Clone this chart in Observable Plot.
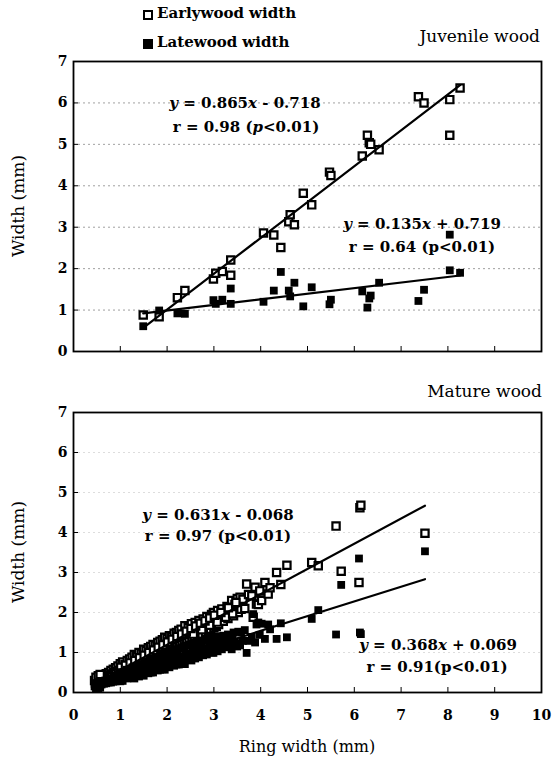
<!DOCTYPE html>
<html>
<head>
<meta charset="utf-8">
<script src="https://cdn.jsdelivr.net/npm/d3@7"></script>
<script src="https://cdn.jsdelivr.net/npm/@observablehq/plot@0.6"></script>
<style>
  html, body { margin: 0; padding: 0; background: #fff; }
  #wrap { position: relative; width: 552px; height: 762px; overflow: hidden; font-family: "DejaVu Serif", serif; color: #000; }
  .abs { position: absolute; white-space: nowrap; }
  .c { transform: translate(-50%, -50%); }
  .eq { font-size: 15px; font-weight: bold; }
  .lab { font-size: 15px; font-weight: bold; }
  .ttl { font-size: 17px; }
  .sq { position: absolute; width: 6px; height: 6px; border: 2px solid #000; background: #fff; }
  .sqf { background: #000; }
</style>
</head>
<body>
<div id="wrap">
  <div id="top" class="abs" style="left:0;top:0"></div>
  <div id="bot" class="abs" style="left:0;top:360px"></div>

  <span class="sq" style="left:143px;top:10px"></span>
  <div class="abs lab" style="left:157px;top:4px">Earlywood width</div>
  <span class="sq sqf" style="left:143px;top:39px"></span>
  <div class="abs lab" style="left:157px;top:33px">Latewood width</div>

  <div class="abs ttl" style="right:12px;top:26px">Juvenile wood</div>
  <div class="abs ttl" style="right:10px;top:381px">Mature wood</div>

  <div class="abs ttl c" style="left:18px;top:206px;transform:translate(-50%,-50%) rotate(-90deg)">Width (mm)</div>
  <div class="abs ttl c" style="left:18px;top:552px;transform:translate(-50%,-50%) rotate(-90deg)">Width (mm)</div>
  <div class="abs ttl c" style="left:307px;top:746px;font-size:16px">Ring width (mm)</div>

  <div class="abs eq c" style="left:245px;top:103px"><i>y</i> = 0.865<i>x</i> - 0.718</div>
  <div class="abs eq c" style="left:246px;top:127px">r = 0.98 (<i>p</i>&lt;0.01)</div>
  <div class="abs eq c" style="left:422px;top:224px"><i>y</i> = 0.135<i>x</i> + 0.719</div>
  <div class="abs eq c" style="left:422px;top:247px">r = 0.64 (p&lt;0.01)</div>

  <div class="abs eq c" style="left:218px;top:515px"><i>y</i> = 0.631<i>x</i> - 0.068</div>
  <div class="abs eq c" style="left:218px;top:536px">r = 0.97 (p&lt;0.01)</div>
  <div class="abs eq c" style="left:438px;top:645px"><i>y</i> = 0.368<i>x</i> + 0.069</div>
  <div class="abs eq c" style="left:437px;top:667px">r = 0.91(p&lt;0.01)</div>
</div>
<script>
// ---------- Data ----------
const xTicks = [0, 1, 2, 3, 4, 5, 6, 7, 8, 9, 10];
const yTicks = [0, 1, 2, 3, 4, 5, 6, 7];

// Juvenile wood: ring width, earlywood width, latewood width (mm)
const ringJuvenile = [1.49, 1.83, 2.22, 2.38, 2.99, 3.04, 3.18, 3.36, 3.36, 4.06, 4.28, 4.43, 4.60, 4.63, 4.72,
  4.91, 5.09, 5.47, 5.50, 6.17, 6.28, 6.32, 6.35, 6.53, 7.37, 7.49, 8.04, 8.04, 8.26];
const earlyJuvenile = [0.88, 0.84, 1.30, 1.47, 1.75, 1.89, 1.93, 1.84, 2.21, 2.86, 2.81, 2.51, 3.13, 3.30, 3.06,
  3.82, 3.54, 4.33, 4.25, 4.72, 5.22, 5.04, 5.00, 4.87, 6.15, 6.00, 6.08, 5.22, 6.36];
const lateJuvenile = [0.61, 0.99, 0.92, 0.91, 1.24, 1.15, 1.25, 1.52, 1.15, 1.20, 1.47, 1.92, 1.47, 1.33, 1.66,
  1.09, 1.55, 1.14, 1.25, 1.45, 1.06, 1.28, 1.35, 1.66, 1.22, 1.49, 1.96, 2.82, 1.90];

// Mature wood: ring width, earlywood width, latewood width (mm)
const ringMature = [0.45, 0.47, 0.50, 0.50, 0.52, 0.55, 0.55, 0.58, 0.60, 0.62, 0.65, 0.68, 0.70, 0.72, 0.75,
  0.78, 0.80, 0.82, 0.85, 0.88, 0.90, 0.93, 0.95, 0.98, 1.00, 1.02, 1.05, 1.08, 1.10, 1.12,
  1.15, 1.18, 1.20, 1.22, 1.25, 1.28, 1.30, 1.33, 1.35, 1.38, 1.40, 1.43, 1.45, 1.48, 1.50,
  1.53, 1.55, 1.58, 1.60, 1.63, 1.65, 1.68, 1.70, 1.73, 1.75, 1.78, 1.80, 1.83, 1.85, 1.88,
  1.90, 1.93, 1.95, 1.98, 2.00, 2.03, 2.05, 2.08, 2.10, 2.13, 2.15, 2.18, 2.20, 2.23, 2.25,
  2.28, 2.30, 2.33, 2.38, 2.40, 2.45, 2.48, 2.52, 2.55, 2.60, 2.63, 2.68, 2.72, 2.77, 2.80,
  2.85, 2.90, 2.95, 2.99, 3.02, 3.08, 3.12, 3.17, 3.22, 3.28, 3.34, 3.38, 3.38, 3.45, 3.50,
  3.56, 3.62, 3.70, 3.74, 3.81, 3.84, 3.88, 3.91, 3.95, 3.98, 4.02, 4.09, 4.16, 4.20, 4.34,
  4.43, 4.56, 5.09, 5.23, 5.61, 5.72, 6.10, 6.12, 6.14, 7.51,
  0.48, 0.53, 0.57, 0.90, 0.96, 1.03, 1.07, 1.14, 1.19, 1.26, 1.32, 1.37, 1.42, 1.47, 1.52,
  1.57, 1.62, 1.67, 1.72, 1.77, 1.82, 1.87, 1.92, 1.97, 2.02, 2.07, 2.12, 2.17, 2.22, 2.27,
  2.32, 2.37, 2.42, 2.47, 2.53, 2.58, 2.65, 2.70, 2.75, 2.82, 2.88, 2.93, 3.00, 3.05, 3.10,
  3.20, 3.30, 3.42, 3.52, 2.56, 2.74, 2.91, 3.07, 3.25, 3.40, 3.58, 3.66,
  1.01, 1.11, 1.21, 1.31, 1.41, 1.51, 1.61, 1.71, 1.81, 1.91, 2.01, 2.11, 2.21, 2.31, 2.41,
  2.51, 2.61, 2.71, 2.81, 2.91, 3.01, 3.15, 3.31, 3.47];
const earlyMature = [0.30, 0.24, 0.33, 0.27, 0.36, 0.30, 0.38, 0.33, 0.40, 0.35, 0.43, 0.38, 0.47, 0.40, 0.50,
  0.44, 0.55, 0.46, 0.58, 0.50, 0.62, 0.52, 0.66, 0.55, 0.72, 0.58, 0.76, 0.60, 0.70, 0.62,
  0.80, 0.66, 0.84, 0.70, 0.88, 0.72, 0.95, 0.78, 0.90, 0.76, 1.00, 0.82, 0.98, 0.86, 1.08,
  0.90, 1.05, 0.92, 1.12, 0.95, 1.15, 1.00, 1.20, 1.02, 1.18, 1.05, 1.25, 1.10, 1.28, 1.12,
  1.32, 1.15, 1.38, 1.20, 1.35, 1.22, 1.42, 1.28, 1.40, 1.30, 1.48, 1.32, 1.50, 1.36, 1.55,
  1.38, 1.58, 1.42, 1.67, 1.45, 1.62, 1.50, 1.72, 1.55, 1.75, 1.60, 1.80, 1.65, 1.84, 1.70,
  1.90, 1.78, 1.95, 2.00, 1.85, 2.05, 1.90, 2.09, 1.95, 2.15, 2.05, 2.30, 2.13, 2.20, 2.35,
  2.38, 2.33, 2.71, 2.45, 2.42, 1.88, 2.63, 2.21, 2.20, 2.54, 2.30, 2.75, 2.46, 2.62, 3.00,
  2.70, 3.18, 3.25, 3.17, 4.16, 3.03, 2.75, 4.62, 4.68, 3.98,
  0.38, 0.42, 0.45, 0.47, 0.50, 0.52, 0.56, 0.57, 0.62, 0.63, 0.68, 0.70, 0.72, 0.76, 0.77,
  0.80, 0.83, 0.85, 0.88, 0.90, 0.93, 0.95, 0.98, 1.00, 1.03, 1.05, 1.08, 1.10, 1.14, 1.16,
  1.19, 1.21, 1.25, 1.27, 1.30, 1.33, 1.38, 1.42, 1.45, 1.50, 1.55, 1.58, 1.62, 1.65, 1.70,
  1.78, 1.85, 1.92, 2.00, 1.46, 1.57, 1.68, 1.76, 1.88, 1.97, 2.08, 2.10,
  0.63, 0.68, 0.74, 0.80, 0.87, 0.93, 1.00, 1.06, 1.13, 1.19, 1.26, 1.33, 1.40, 1.46, 1.53,
  1.60, 1.66, 1.73, 1.79, 1.86, 1.93, 2.00, 2.12, 2.25];
const lateMature = [0.15, 0.23, 0.17, 0.23, 0.16, 0.25, 0.17, 0.25, 0.20, 0.27, 0.22, 0.30, 0.23, 0.32, 0.25,
  0.34, 0.25, 0.36, 0.27, 0.38, 0.28, 0.41, 0.29, 0.43, 0.28, 0.44, 0.29, 0.48, 0.40, 0.50,
  0.35, 0.52, 0.36, 0.52, 0.37, 0.56, 0.35, 0.55, 0.45, 0.62, 0.40, 0.61, 0.47, 0.62, 0.42,
  0.63, 0.50, 0.66, 0.48, 0.68, 0.50, 0.68, 0.50, 0.71, 0.57, 0.73, 0.55, 0.73, 0.57, 0.76,
  0.58, 0.78, 0.57, 0.78, 0.65, 0.81, 0.63, 0.80, 0.70, 0.83, 0.67, 0.86, 0.70, 0.87, 0.70,
  0.90, 0.72, 0.91, 0.71, 0.95, 0.83, 0.98, 0.80, 1.00, 0.85, 1.03, 0.88, 1.07, 0.93, 1.10,
  0.95, 1.12, 1.00, 0.99, 1.17, 1.03, 1.22, 1.08, 1.27, 1.13, 1.29, 1.08, 1.25, 1.25, 1.15,
  1.18, 1.29, 0.99, 1.29, 1.39, 1.96, 1.25, 1.70, 1.75, 1.44, 1.72, 1.34, 1.70, 1.58, 1.34,
  1.73, 1.38, 1.84, 2.06, 1.45, 2.69, 3.35, 1.50, 1.46, 3.53,
  0.10, 0.11, 0.12, 0.43, 0.46, 0.51, 0.51, 0.57, 0.57, 0.63, 0.64, 0.67, 0.70, 0.71, 0.75,
  0.77, 0.79, 0.82, 0.84, 0.87, 0.89, 0.92, 0.94, 0.97, 0.99, 1.02, 1.04, 1.07, 1.08, 1.11,
  1.13, 1.16, 1.17, 1.20, 1.23, 1.25, 1.27, 1.28, 1.30, 1.32, 1.33, 1.35, 1.38, 1.40, 1.40,
  1.42, 1.45, 1.50, 1.52, 1.10, 1.17, 1.23, 1.31, 1.37, 1.43, 1.50, 1.56,
  0.38, 0.43, 0.47, 0.51, 0.54, 0.58, 0.61, 0.65, 0.68, 0.72, 0.75, 0.78, 0.81, 0.85, 0.88,
  0.91, 0.95, 0.98, 1.02, 1.05, 1.08, 1.15, 1.19, 1.22];

// Regression coefficients printed on the chart [slope, intercept]
const earlyFitJuvenile = [0.865, -0.718];
const lateFitJuvenile = [0.135, 0.719];
const earlyFitMature = [0.631, -0.068];
const lateFitMature = [0.368, 0.069];

// ---------- Drawing ----------
function fitLine(ring, [slope, intercept]) {
  return d3.extent(ring).map(x => ({x, y: slope * x + intercept}));
}

function panel({ring, early, late, earlyFit, lateFit, height, marginTop, marginBottom, xLabels, gridColor, gridOpacity}) {
  const rows = ring.map((x, i) => ({x, ew: early[i], lw: late[i]}));
  return Plot.plot({
    width: 552,
    height,
    marginLeft: 73,
    marginRight: 11,
    marginTop,
    marginBottom,
    style: {fontFamily: "DejaVu Serif", fontSize: "14px", fontWeight: "bold", color: "#000", background: "#fff"},
    x: {domain: [0, 10]},
    y: {domain: [0, 7]},
    marks: [
      Plot.gridY(yTicks.slice(1, -1), {stroke: gridColor, strokeOpacity: gridOpacity, strokeDasharray: "2,3", strokeWidth: 1}),
      Plot.dot(rows, {x: "x", y: "ew", symbol: "square", r: 4.1, fill: "white", stroke: "black", strokeWidth: 2.2}),
      Plot.dot(rows, {x: "x", y: "lw", symbol: "square", r: 4.4, fill: "black", stroke: "none"}),
      Plot.line(fitLine(ring, earlyFit), {x: "x", y: "y", stroke: "black", strokeWidth: 2.2}),
      Plot.line(fitLine(ring, lateFit), {x: "x", y: "y", stroke: "black", strokeWidth: 2.2}),
      Plot.axisY(yTicks, {tickSize: -5, tickPadding: 11, label: null, fontWeight: "bold"}),
      Plot.axisX(xTicks, {tickSize: -5, tickPadding: 23, label: null, fontWeight: "bold",
        tickFormat: xLabels ? d => d : () => ""}),
      Plot.frame({stroke: "black", strokeWidth: 1.8})
    ]
  });
}

document.getElementById("top").append(panel({
  ring: ringJuvenile, early: earlyJuvenile, late: lateJuvenile,
  earlyFit: earlyFitJuvenile, lateFit: lateFitJuvenile,
  height: 360, marginTop: 61, marginBottom: 9, xLabels: false,
  gridColor: "#888", gridOpacity: 0.8
}));

document.getElementById("bot").append(panel({
  ring: ringMature, early: earlyMature, late: lateMature,
  earlyFit: earlyFitMature, lateFit: lateFitMature,
  height: 402, marginTop: 52, marginBottom: 70, xLabels: true,
  gridColor: "#bbb", gridOpacity: 0.5
}));
</script>
</body>
</html>
